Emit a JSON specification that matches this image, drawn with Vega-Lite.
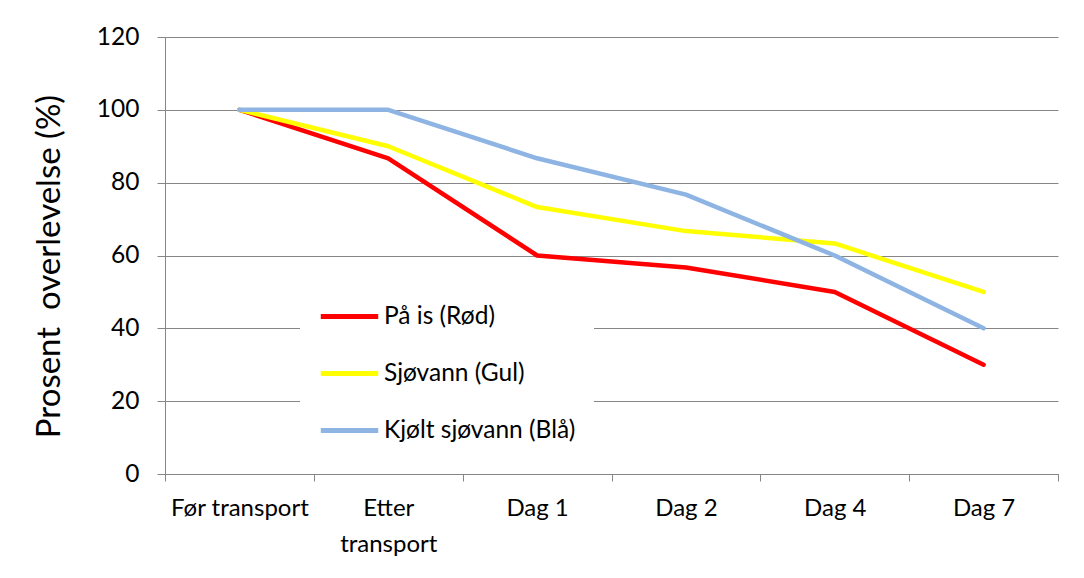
{
  "$schema": "https://vega.github.io/schema/vega-lite/v6.json",
  "autosize": "none",
  "width": 893,
  "height": 437,
  "padding": {"left": 165, "top": 37, "right": 26, "bottom": 104},
  "background": "white",
  "data": {
    "values": [
      {"tid": "Før transport", "serie": "På is (Rød)", "verdi": 100},
      {"tid": "Etter transport", "serie": "På is (Rød)", "verdi": 86.7},
      {"tid": "Dag 1", "serie": "På is (Rød)", "verdi": 60},
      {"tid": "Dag 2", "serie": "På is (Rød)", "verdi": 56.7},
      {"tid": "Dag 4", "serie": "På is (Rød)", "verdi": 50},
      {"tid": "Dag 7", "serie": "På is (Rød)", "verdi": 30},
      {"tid": "Før transport", "serie": "Sjøvann (Gul)", "verdi": 100},
      {"tid": "Etter transport", "serie": "Sjøvann (Gul)", "verdi": 90},
      {"tid": "Dag 1", "serie": "Sjøvann (Gul)", "verdi": 73.3},
      {"tid": "Dag 2", "serie": "Sjøvann (Gul)", "verdi": 66.7},
      {"tid": "Dag 4", "serie": "Sjøvann (Gul)", "verdi": 63.3},
      {"tid": "Dag 7", "serie": "Sjøvann (Gul)", "verdi": 50},
      {"tid": "Før transport", "serie": "Kjølt sjøvann (Blå)", "verdi": 100},
      {"tid": "Etter transport", "serie": "Kjølt sjøvann (Blå)", "verdi": 100},
      {"tid": "Dag 1", "serie": "Kjølt sjøvann (Blå)", "verdi": 86.7},
      {"tid": "Dag 2", "serie": "Kjølt sjøvann (Blå)", "verdi": 76.7},
      {"tid": "Dag 4", "serie": "Kjølt sjøvann (Blå)", "verdi": 60},
      {"tid": "Dag 7", "serie": "Kjølt sjøvann (Blå)", "verdi": 40}
    ]
  },
  "mark": {"type": "line", "strokeWidth": 4.5, "strokeCap": "round", "strokeJoin": "round"},
  "encoding": {
    "x": {
      "field": "tid",
      "type": "nominal",
      "sort": ["Før transport", "Etter transport", "Dag 1", "Dag 2", "Dag 4", "Dag 7"],
      "scale": {"type": "band", "paddingInner": 0, "paddingOuter": 0},
      "axis": {
        "title": null,
        "tickBand": "extent",
        "labelAngle": 0,
        "labelFont": "Lato",
        "labelFontSize": 24,
        "labelColor": "black",
        "labelPadding": 15,
        "labelLimit": 400,
        "labelLineHeight": 36,
        "labelExpr": "datum.value == 'Etter transport' ? ['Etter', 'transport'] : datum.value",
        "domainColor": "#868686",
        "tickColor": "#868686",
        "tickSize": 7,
        "grid": false
      }
    },
    "y": {
      "field": "verdi",
      "type": "quantitative",
      "scale": {"domain": [0, 120], "nice": false},
      "axis": {
        "title": "Prosent\u00a0 overlevelse (%)",
        "titleFont": "Lato",
        "titleFontSize": 33,
        "titleFontWeight": "normal",
        "titleColor": "black",
        "titlePadding": 30,
        "titleY": 229,
        "values": [0, 20, 40, 60, 80, 100, 120],
        "labelFont": "Lato",
        "labelFontSize": 24.5,
        "labelColor": "black",
        "labelPadding": 18,
        "domainColor": "#868686",
        "tickColor": "#868686",
        "tickSize": 8,
        "gridColor": "#868686",
        "gridWidth": 1.2
      }
    },
    "color": {
      "field": "serie",
      "type": "nominal",
      "sort": ["På is (Rød)", "Sjøvann (Gul)", "Kjølt sjøvann (Blå)"],
      "scale": {
        "domain": ["På is (Rød)", "Sjøvann (Gul)", "Kjølt sjøvann (Blå)"],
        "range": ["#FF0000", "#FFFF00", "#8EB4E3"]
      },
      "legend": {
        "title": null,
        "orient": "none",
        "legendX": 135,
        "legendY": 230,
        "fillColor": "white",
        "padding": 18,
        "symbolType": "stroke",
        "symbolSize": 3300,
        "symbolStrokeWidth": 5,
        "labelFont": "Lato",
        "labelFontSize": 24.5,
        "labelLimit": 400,
        "labelColor": "black",
        "labelOffset": 3,
        "rowPadding": 14
      }
    }
  },
  "config": {"view": {"stroke": null}}
}
